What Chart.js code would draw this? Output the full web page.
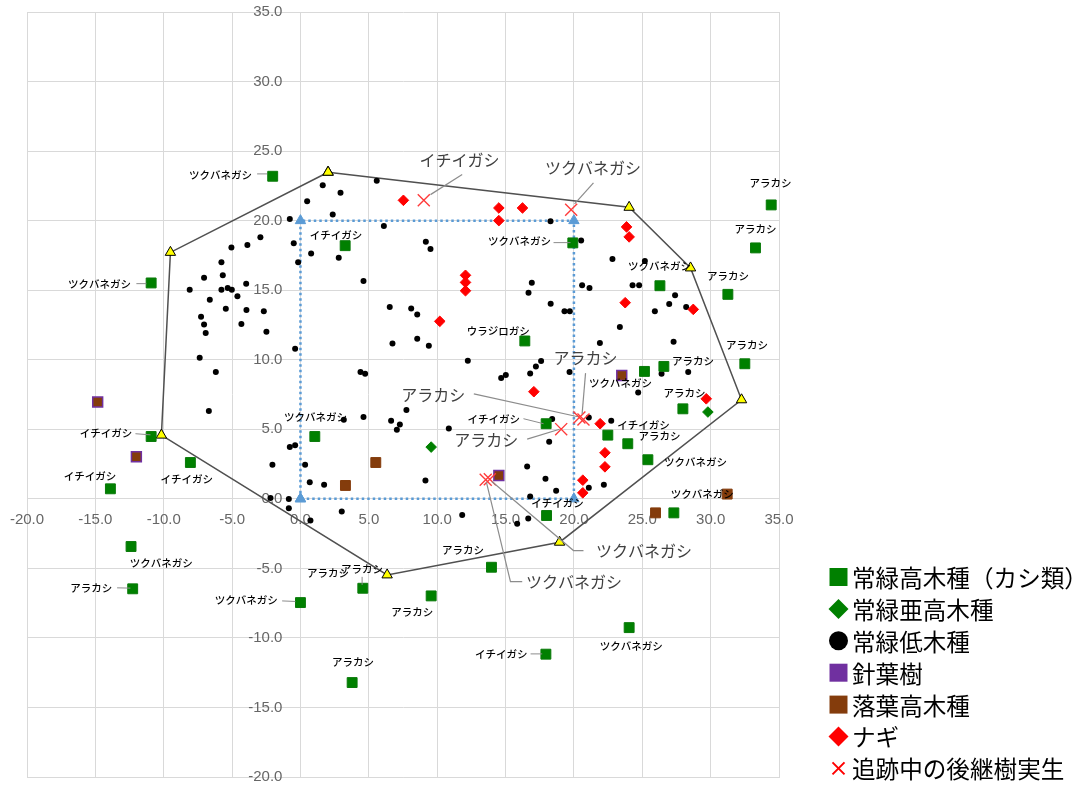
<!DOCTYPE html>
<html>
<head>
<meta charset="utf-8">
<script src="https://cdn.jsdelivr.net/npm/chart.js@4.4.1/dist/chart.umd.min.js"></script>
<style>
  html, body { margin: 0; padding: 0; background: #fff; }
  #wrap { width: 1081px; height: 787px; }
</style>
</head>
<body>
<div id="wrap"><canvas id="c" width="1081" height="787"></canvas></div>
<script>
// ---- tree positions (m) ----
const kashiPoints = [ // 常緑高木種（カシ類）
  [-2.03,23.19],[-10.92,15.52],[-10.92,4.48],[-8.05,2.61],[-13.9,0.72],[3.27,18.2],
  [16.41,11.35],[19.92,18.4],[26.29,15.32],[34.43,21.13],[33.28,18.04],[31.26,14.7],
  [1.05,4.48],[17.97,5.4],[18.0,-1.2],[25.16,9.16],[26.58,9.52],[32.5,9.71],
  [27.97,6.47],[22.48,4.58],[23.94,3.96],[25.41,2.81],[27.31,-1.01],[-12.39,-3.43],
  [-12.27,-6.47],[4.56,-6.43],[0,-7.46],[9.56,-6.98],[13.97,-4.92],[3.78,-13.21],
  [17.95,-11.17],[24.04,-9.26]
];
const subTallPoints = [[9.56,3.72],[29.8,6.24]];            // 常緑亜高木種
const shrubPoints = [                                        // 常緑低木種
  [-0.78,20.12],[-2.93,18.8],[-3.88,18.25],[-5.05,18.06],[-5.78,17.0],[-7.05,15.9],
  [-5.68,16.07],[-3.97,15.47],[-8.1,15.04],[-5.78,15.04],[-5.32,15.16],[-5.02,15.04],
  [-4.61,14.56],[-6.63,14.32],[-5.46,13.67],[-3.95,13.57],[-2.68,13.48],[-7.27,13.09],
  [-7.05,12.54],[-4.32,12.57],[-6.93,11.92],[-2.49,12.01],[-7.37,10.14],[-6.19,9.11],
  [-6.7,6.31],[-2.05,2.45],[-2.19,0.05],[-0.85,-0.02],[-0.85,-0.67],
  [5.58,22.86],[1.63,22.54],[2.93,22.01],[0.49,21.39],[2.36,20.45],[6.1,19.62],
  [9.17,18.49],[9.51,17.96],[-0.49,18.37],[0.78,17.63],[2.8,17.34],[-0.17,17.0],
  [4.61,15.66],[16.92,15.54],[16.68,14.82],[6.53,13.79],[8.1,13.69],[8.54,13.26],
  [18.3,14.03],[8.54,11.5],
  [18.29,19.95],[20.53,18.58],[22.82,17.24],[25.19,17.1],[20.6,15.35],[21.14,15.16],
  [24.29,15.35],[24.77,15.35],[27.4,14.63],[26.97,14.01],[28.21,13.79],[25.92,13.48],
  [19.31,13.48],[19.7,13.48],[23.36,12.35],
  [-0.39,10.79],[6.73,11.17],[9.39,11.01],[12.24,9.93],[4.39,9.11],[4.73,8.99],
  [7.75,6.38],[4.61,5.88],[3.17,5.68],[6.63,5.61],[7.27,5.35],[7.05,4.96],[10.85,5.06],
  [-0.78,3.72],[-0.39,3.86],[0.34,2.45],[0.68,1.2],[1.73,1.01],[9.14,1.32],
  [3.02,-0.91],[0.73,-1.56],[11.83,-1.17],[14.68,8.68],[15.02,8.9],[16.8,9.01],
  [17.22,9.52],[17.6,9.9],[16.58,2.33],[16.8,0.17],[15.85,-1.8],[16.66,-1.42],
  [18.19,4.1],
  [21.9,11.2],[27.29,11.29],[19.68,9.11],[26.41,8.99],[28.36,9.11],[24.7,7.65],
  [18.41,5.73],[21.09,5.85],[22.73,5.61],[17.92,1.44],[18.7,0.58],[21.09,0.79],[22.19,1.01]
];
const coniferPoints = [[-14.83,6.96],[-12.0,3.02],[14.51,1.68],[23.5,8.87]];   // 針葉樹
const deciduousPoints = [[5.51,2.61],[3.29,0.96],[25.97,-1.01],[31.21,0.34]]; // 落葉高木種
const nagiPoints = [                                                            // ナギ
  [7.53,21.46],[14.51,20.91],[16.24,20.91],[14.51,20.0],[12.07,16.07],[12.07,15.56],
  [12.07,14.96],[10.19,12.76],[23.85,19.55],[24.04,18.83],[23.75,14.1],[28.73,13.62],
  [17.07,7.7],[21.92,5.4],[22.27,3.31],[22.27,2.3],[20.65,1.34],[20.65,0.43],[29.68,7.19]
];
const seedlingPoints = [                                                        // 追跡中の後継樹実生
  [9.02,21.46],[19.8,20.79],[20.4,5.85],[20.7,5.7],[19.07,5.01],[13.55,1.37],[13.85,1.4]
];
// canopy outline (closed) and the 20 m survey square
const hullPoints = [[2.02,23.48],[24.04,20.96],[28.53,16.6],[32.26,7.12],[18.95,-3.12],
  [6.34,-5.47],[-10.17,4.58],[-9.51,17.72],[2.02,23.48]];
const plotPoints = [[0,0],[0,20],[20,20],[20,0],[0,0]];

// axis ticks
const axisMin = -20, axisMax = 35, axisStep = 5;

// species notes: [text, centre x, centre y]
const smallNotes = [
  ['ツクバネガシ',-5.85,23.31],['ツクバネガシ',-14.69,15.47],['イチイガシ',-14.23,4.73],
  ['イチイガシ',-8.32,1.44],['イチイガシ',-15.4,1.65],['イチイガシ',2.6,18.99],
  ['ウラジロガシ',14.47,12.04],['ツクバネガシ',16.02,18.56],['ツクバネガシ',26.26,16.76],
  ['アラカシ',34.38,22.71],['アラカシ',33.28,19.42],['アラカシ',31.27,16.04],
  ['ツクバネガシ',1.1,5.88],['イチイガシ',14.14,5.73],['イチイガシ',18.8,-0.29],
  ['ツクバネガシ',23.41,8.32],['アラカシ',28.71,9.88],['アラカシ',32.66,11.08],
  ['アラカシ',28.09,7.6],['イチイガシ',25.09,5.32],['アラカシ',26.26,4.48],
  ['ツクバネガシ',28.9,2.68],['ツクバネガシ',29.39,0.36],['ツクバネガシ',-10.18,-4.63],
  ['アラカシ',-15.3,-6.42],['ツクバネガシ',-3.96,-7.27],['アラカシ',2.01,-5.35],
  ['アラカシ',4.51,-5.06],['アラカシ',8.17,-8.11],['アラカシ',11.89,-3.67],
  ['アラカシ',3.84,-11.71],['イチイガシ',14.69,-11.15],['ツクバネガシ',24.2,-10.58]
];
const smallLeaders = [
  [[-3.17,23.36],[-2.44,23.36]],[[-12.0,15.47],[-11.27,15.47]],[[-12.07,4.68],[-10.97,4.6]],
  [[18.51,18.42],[19.75,18.42]],[[16.31,5.76],[17.78,5.4]],[[-13.41,-6.4],[-12.44,-6.42]],
  [[-1.34,-7.34],[-0.37,-7.38]],[[4.51,-5.61],[4.51,-6.19]],[[16.83,-11.15],[17.68,-11.15]]
];
// seedling notes: [text, centre x, centre y]
const bigNotes = [
  ['イチイガシ',11.63,24.34],['ツクバネガシ',21.4,23.81],['アラカシ',9.71,7.48],
  ['アラカシ',13.59,4.24],['アラカシ',20.85,10.14],['ツクバネガシ',25.13,-3.72],
  ['ツクバネガシ',20.01,-5.95]
];
const bigLeaders = [
  [[11.83,23.31],[9.51,21.87]],[[21.43,22.71],[20.05,21.2]],[[12.68,7.55],[20.3,5.9]],
  [[16.58,4.29],[18.95,5.0]],[[20.85,9.04],[20.6,6.1]],
  [[20.7,-3.72],[19.97,-3.72],[14.0,1.25]],[[16.22,-5.95],[15.36,-5.95],[13.6,1.2]]
];

const legendItems = [
  ['rect','#008000','常緑高木種（カシ類）'],['diamond','#008000','常緑亜高木種'],
  ['circle','#000000','常緑低木種'],['rect','#7030a0','針葉樹'],['rect','#843c0c','落葉高木種'],
  ['diamond','#ff0000','ナギ'],['cross','#ff0000','追跡中の後継樹実生']
];

const toXY = arr => arr.map(p => ({x: p[0], y: p[1]}));
const CJK = '"Noto Sans CJK JP", "Noto Sans", sans-serif';

const axisLabelPlugin = {
  id: 'axisLabelPlugin',
  beforeDatasetsDraw(chart) {
    const {ctx, scales: {x, y}} = chart;
    const x0 = x.getPixelForValue(0), y0 = y.getPixelForValue(0);
    ctx.save();
    ctx.font = '15px "Liberation Sans", Arial, sans-serif';
    ctx.fillStyle = '#666666';
    ctx.textBaseline = 'middle';
    ctx.textAlign = 'center';
    x.ticks.forEach(t => ctx.fillText(t.value.toFixed(1), x.getPixelForValue(t.value), y0 + 21));
    ctx.textAlign = 'right';
    y.ticks.forEach(t => ctx.fillText(t.value.toFixed(1), x0 - 18, y.getPixelForValue(t.value)));
    ctx.restore();
  }
};

const notePlugin = {
  id: 'notePlugin',
  afterDatasetsDraw(chart) {
    const {ctx, scales: {x, y}} = chart;
    const line = (pts, color, w) => {
      ctx.beginPath();
      ctx.strokeStyle = color; ctx.lineWidth = w;
      pts.forEach((p, i) => {
        const px = x.getPixelForValue(p[0]), py = y.getPixelForValue(p[1]);
        i ? ctx.lineTo(px, py) : ctx.moveTo(px, py);
      });
      ctx.stroke();
    };
    ctx.save();
    smallLeaders.forEach(l => line(l, '#8c8c8c', 1));
    bigLeaders.forEach(l => line(l, '#8c8c8c', 1.2));
    ctx.textAlign = 'center'; ctx.textBaseline = 'middle';
    ctx.fillStyle = '#000';
    ctx.font = '500 10.5px ' + CJK;
    smallNotes.forEach(n => ctx.fillText(n[0], x.getPixelForValue(n[1]), y.getPixelForValue(n[2])));
    ctx.fillStyle = '#404040';
    ctx.font = '16px ' + CJK;
    bigNotes.forEach(n => ctx.fillText(n[0], x.getPixelForValue(n[1]), y.getPixelForValue(n[2])));
    ctx.restore();
  }
};

const legendPlugin = {
  id: 'legendPlugin',
  afterDraw(chart) {
    const ctx = chart.ctx;
    const mx = 838.5, tx = 852, top = 577, gap = 31.9;
    ctx.save();
    legendItems.forEach((it, i) => {
      const cy = top + i * gap;
      ctx.fillStyle = it[1]; ctx.strokeStyle = it[1];
      ctx.beginPath();
      if (it[0] === 'rect') ctx.rect(mx - 9, cy - 9, 18, 18);
      else if (it[0] === 'diamond') { ctx.moveTo(mx, cy - 10); ctx.lineTo(mx + 10, cy); ctx.lineTo(mx, cy + 10); ctx.lineTo(mx - 10, cy); ctx.closePath(); }
      else if (it[0] === 'circle') ctx.arc(mx, cy, 9.5, 0, Math.PI * 2);
      if (it[0] === 'cross') {
        ctx.lineWidth = 2;
        ctx.moveTo(mx - 6, cy - 6); ctx.lineTo(mx + 6, cy + 6);
        ctx.moveTo(mx + 6, cy - 6); ctx.lineTo(mx - 6, cy + 6);
        ctx.stroke();
      } else ctx.fill();
      ctx.fillStyle = '#000';
      ctx.font = '23.6px ' + CJK;
      ctx.textAlign = 'left'; ctx.textBaseline = 'middle';
      ctx.fillText(it[2], tx, cy + 1);
    });
    ctx.restore();
  }
};

const gridCfg = {color: '#d9d9d9', lineWidth: 1, drawTicks: false};
const axisCfg = {
  type: 'linear', min: axisMin, max: axisMax,
  ticks: {stepSize: axisStep, display: false},
  grid: gridCfg,
  border: {display: true, color: '#d9d9d9'}
};

new Chart(document.getElementById('c'), {
  type: 'scatter',
  data: {
    datasets: [
      {label: '追跡中の後継樹実生', data: toXY(seedlingPoints), order: 0,
       pointStyle: 'crossRot', pointRadius: 8.5, borderColor: '#ff3b3b', borderWidth: 1.4, backgroundColor: '#ff3b3b'},
      {label: 'ナギ', data: toXY(nagiPoints), order: 1,
       pointStyle: 'rectRot', pointRadius: 5.3, backgroundColor: '#ff0000', borderColor: '#ff0000', borderWidth: 1},
      {label: '常緑高木種（カシ類）', data: toXY(kashiPoints), order: 2,
       pointStyle: 'rect', pointRadius: 7, backgroundColor: '#008000', borderColor: '#0a7a0a', borderWidth: 1},
      {label: '針葉樹', data: toXY(coniferPoints), order: 3,
       pointStyle: 'rect', pointRadius: 7, backgroundColor: '#843c0c', borderColor: '#7030a0', borderWidth: 1.5},
      {label: '落葉高木種', data: toXY(deciduousPoints), order: 4,
       pointStyle: 'rect', pointRadius: 7, backgroundColor: '#843c0c', borderColor: '#843c0c', borderWidth: 1},
      {label: '常緑亜高木種', data: toXY(subTallPoints), order: 5,
       pointStyle: 'rectRot', pointRadius: 5.3, backgroundColor: '#008000', borderColor: '#008000', borderWidth: 1},
      {label: '常緑低木種', data: toXY(shrubPoints), order: 6,
       pointStyle: 'circle', pointRadius: 3, backgroundColor: '#000', borderColor: '#000', borderWidth: 0},
      {label: '樹冠外周', data: toXY(hullPoints), order: 7, showLine: true, tension: 0, fill: false,
       borderColor: '#505050', borderWidth: 1.5,
       pointStyle: 'triangle', pointRadius: 6, pointBackgroundColor: '#ffff00', pointBorderColor: '#000', pointBorderWidth: 1},
      {label: '調査区', data: toXY(plotPoints), order: 8, showLine: true, tension: 0, fill: false,
       borderColor: '#5b9bd5', borderWidth: 2.5, borderDash: [2.5, 3],
       pointStyle: 'triangle', pointRadius: 6, pointBackgroundColor: '#5b9bd5', pointBorderColor: '#5b9bd5', pointBorderWidth: 1}
    ]
  },
  options: {
    responsive: false,
    devicePixelRatio: 1,
    animation: false,
    layout: {padding: {left: 27, right: 302, top: 12, bottom: 10}},
    scales: {x: axisCfg, y: axisCfg},
    plugins: {legend: {display: false}, tooltip: {enabled: false}},
    events: []
  },
  plugins: [axisLabelPlugin, notePlugin, legendPlugin]
});
</script>
</body>
</html>
